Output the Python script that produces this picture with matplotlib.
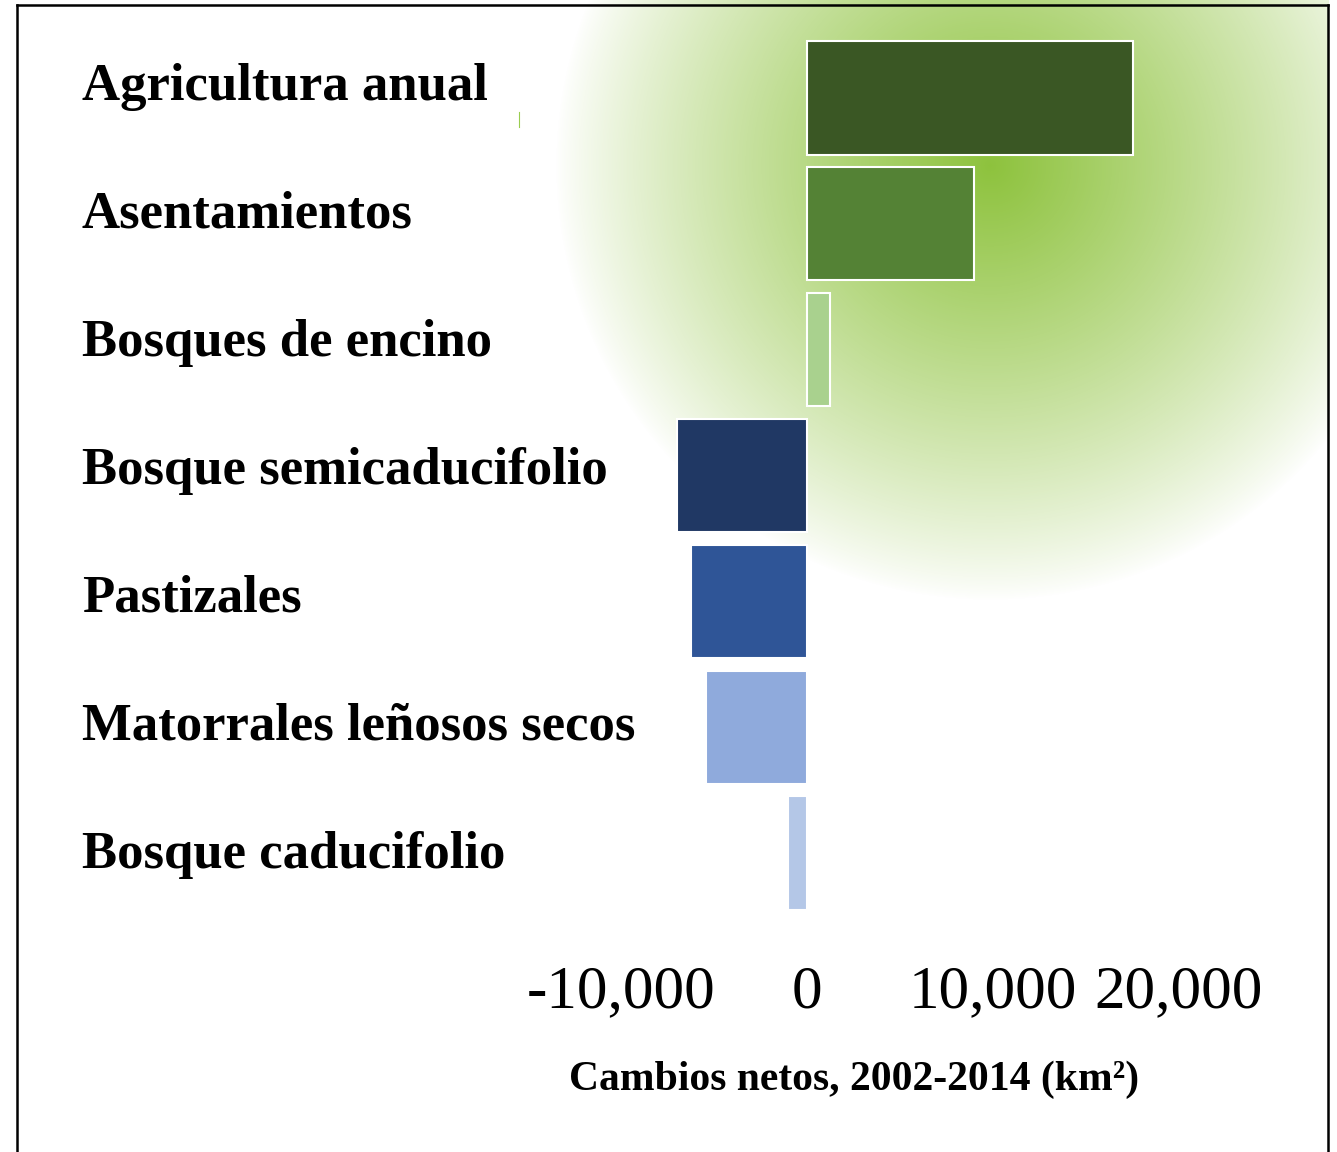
"""
Cambios netos de cobertura, 2002-2014 (km2)
Barras horizontales con fondo de degradado verde
"""
import numpy as np
import matplotlib.pyplot as plt
from matplotlib.lines import Line2D

plt.rcParams['font.family'] = ['Liberation Serif', 'DejaVu Serif']

# datos
categorias = ['Agricultura anual', 'Asentamientos', 'Bosques de encino',
              'Bosque semicaducifolio', 'Pastizales',
              'Matorrales leñosos secos', 'Bosque caducifolio']
cambios = [17500, 9000, 1250, -7000, -6250, -5450, -1000]
colores = ['#3A5724', '#548235', '#A9D18E', '#203864', '#2F5597',
           '#8FAADC', '#B4C7E7']
xticks = [-10000, 0, 10000, 20000]
xticklabels = ['-10,000', '0', '10,000', '20,000']
xlabel = 'Cambios netos, 2002-2014 (km²)'

W, H = 1337, 1152
fig = plt.figure(figsize=(W / 100, H / 100), dpi=100)
fig.patch.set_facecolor('white')

# fondo: degradado radial verde
bg = fig.add_axes([0, 0, 1, 1], zorder=0)
yy, xx = np.mgrid[0:H, 0:W]
cx, cy, R = 990, 165, 435
r = np.sqrt((xx - cx) ** 2 + (yy - cy) ** 2)
alpha = np.clip(1 - r / R, 0, 1) ** 0.85
alpha[:, 1329:] = 0
img = np.zeros((H, W, 4))
img[..., 0] = 141 / 255
img[..., 1] = 194 / 255
img[..., 2] = 60 / 255
img[..., 3] = alpha
bg.imshow(img, extent=(0, W, H, 0), interpolation='bilinear', aspect='auto')
bg.set_xlim(0, W)
bg.set_ylim(H, 0)
bg.axis('off')

# ejes principales
ax = fig.add_axes([535 / W, 1 - 916 / H, (1297 - 535) / W, (916 - 35) / H], zorder=1)
ax.patch.set_alpha(0)
y = np.arange(len(categorias))
ax.barh(y, cambios, height=0.9, color=colores, edgecolor='white', linewidth=1.5)
ax.set_xlim(-14620, 26340)
ax.set_ylim(len(categorias) - 0.5, -0.5)
ax.set_yticks([])
ax.set_xticks(xticks)
ax.set_xticklabels(xticklabels, fontsize=44)
ax.tick_params(axis='x', length=0, pad=35)
for s in ax.spines.values():
    s.set_visible(False)

# etiquetas de categorías (alineadas a la izquierda)
for i, nombre in enumerate(categorias):
    yb = 100 + 128 * i
    fig.text(82 / W, 1 - yb / H, nombre, fontsize=38, fontweight='bold',
             ha='left', va='baseline', zorder=3)

fig.text(854 / W, 1 - 1090 / H, xlabel, fontsize=30, fontweight='bold',
         ha='center', va='baseline', zorder=3)

# marco
def px_line(x0, y0, x1, y1, **kw):
    fig.add_artist(Line2D([x0 / W, x1 / W], [1 - y0 / H, 1 - y1 / H],
                          transform=fig.transFigure, **kw))

px_line(16.5, 5, 16.5, H, color='black', lw=1.8)
px_line(16.5, 5, 1328, 5, color='black', lw=1.8)
px_line(1328, 5, 1328, H, color='black', lw=1.8)
px_line(519, 112, 519, 127, color='#9ACD50', lw=0.8)

fig.savefig('out.png', dpi=100)
